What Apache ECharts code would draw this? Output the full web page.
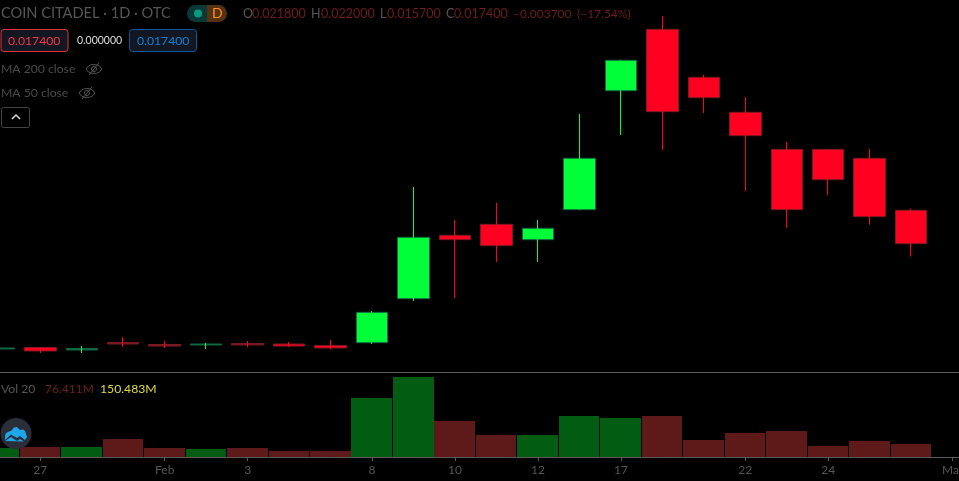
<!DOCTYPE html>
<html><head><meta charset="utf-8">
<style>html,body{margin:0;padding:0;background:#000}#c{width:959px;height:481px}</style>
<script src="https://cdn.jsdelivr.net/npm/echarts@6/dist/echarts.min.js"></script>
</head><body><div id="c"></div>
<script>
const categories=['2021-01-26','2021-01-27','2021-01-28','2021-01-29','2021-02-01','2021-02-02','2021-02-03','2021-02-04','2021-02-05','2021-02-08','2021-02-09','2021-02-10','2021-02-11','2021-02-12','2021-02-16','2021-02-17','2021-02-18','2021-02-19','2021-02-22','2021-02-23','2021-02-24','2021-02-25','2021-02-26','2021-03-01'];
const tickLabels={'2021-01-27':'27','2021-02-01':'Feb','2021-02-03':'3','2021-02-08':'8','2021-02-10':'10','2021-02-12':'12','2021-02-17':'17','2021-02-22':'22','2021-02-24':'24','2021-03-01':'Mar'};
const opens =[.00353,.00373,.00340,.00439,.00412,.00406,.00425,.00419,.00399,.00436,.01016,.01851,.01995,.01793,.02188,.03755,.04564,.03932,.03471,.02983,.02983,.02865,.0218];
const closes=[.00366,.00327,.00360,.00419,.00392,.00419,.00406,.00392,.00366,.00836,.01824,.01793,.01714,.01943,.02865,.04156,.03479,.03663,.03163,.02188,.02583,.02096,.0174];
const lows  =[.00353,.00300,.00300,.00379,.00366,.00353,.00379,.00379,.00346,.00419,.00985,.01025,.01499,.01499,.02188,.03172,.02974,.03462,.02434,.01951,.02381,.01990,.0157];
const highs =[.00366,.00373,.00392,.00511,.00458,.00432,.00458,.00445,.00472,.00853,.02487,.02052,.02276,.02052,.03448,.04156,.04739,.03962,.03672,.03080,.02983,.02987,.0220];
const volumes=[53,59,59,106,53,47,53,35,35,347,470,212,129,129,241,229,241,100,141,153,65,94,76.411];
const headerText={title:'COIN CITADEL · 1D · OTC',ma200:'MA 200 close',ma50:'MA 50 close',vol:'Vol 20',volValue:'76.411M',volMa:'150.483M'};
const ohlcText=[['O',243],['0.021800',252],['H',311],['0.022000',321],['L',380],['0.015700',387],['C',446],['0.017400',454],['−0.003700',513],['(−17.54%)',577]];

const FONT='Lato,"Open Sans",sans-serif';
const UP='#00ff38',DOWN='#ff0020',UPB='#126a44',DOWNB='#7a1a22';
const wicks=opens.map((o,i)=>[i,o,closes[i],lows[i],highs[i]]);
const bodies=opens.map((o,i)=>{
 const up=closes[i]>=o, thin=Math.abs(closes[i]-o)<0.00025;
 const item={value:[i,o,closes[i],Math.min(o,closes[i]),Math.max(o,closes[i])]};
 if(thin) item.itemStyle=up?{color:UPB}:{color0:DOWNB};
 return item;
});
const volData=volumes.map((v,i)=>[i,v,closes[i]>=opens[i]?1:0]);
const tickIdx=categories.map((c,i)=>tickLabels[c]!==undefined?i:-1).filter(i=>i>=0);

function txt(x,y,t,fill,size){return {type:'text',x,y,z:20,style:{text:t,fill,font:(size||13)+'px '+FONT,textVerticalAlign:'middle',textAlign:'left'}};}
function eye(cx,cy){const c='#555555';return {type:'group',x:cx,y:cy,z:20,children:[
 {type:'polygon',shape:{points:[[-8,0],[-5.5,-3],[-2.5,-4.3],[2.5,-4.3],[5.5,-3],[8,0],[5.5,3],[2.5,4.3],[-2.5,4.3],[-5.5,3]]},style:{fill:'none',stroke:c,lineWidth:1}},
 {type:'circle',shape:{cx:0,cy:0,r:2.5},style:{fill:'none',stroke:c,lineWidth:1}},
 {type:'line',shape:{x1:-5,y1:6,x2:5,y2:-6},style:{stroke:c,lineWidth:1}}]};}

const graphic=[
 txt(1,13,headerText.title,'#565656',14.6),
 {type:'rect',z:19,shape:{x:187,y:5,width:20,height:17,r:[8.5,0,0,8.5]},style:{fill:'#0b3a36'}},
 {type:'rect',z:19,shape:{x:207,y:5,width:20,height:17,r:[0,8.5,8.5,0]},style:{fill:'#553212'}},
 {type:'circle',z:20,shape:{cx:198,cy:13.5,r:4},style:{fill:'#089981'}},
 txt(212,13.5,'D','#ff9020',14),
 ...ohlcText.map((o,i)=>txt(o[1],14,o[0],(i<8&&i%2==0)?'#565656':'#6e1c1c',i<8?12.5:12)),
 {type:'rect',z:19,shape:{x:1,y:29.5,width:67,height:22,r:3},style:{fill:'#131722',stroke:'#e0323c',lineWidth:1}},
 txt(8,41,'0.017400','#f23645',12.2),
 txt(77,41,'0.000000','#dddddd',10.5),
 {type:'rect',z:19,shape:{x:129.5,y:29.5,width:67,height:22,r:3},style:{fill:'#131722',stroke:'#0b5b9c',lineWidth:1}},
 txt(137,41,'0.017400','#1080d8',12.2),
 txt(1,69.5,headerText.ma200,'#4a4a4a',12.2), eye(94,69),
 txt(1,93.5,headerText.ma50,'#4a4a4a',12.2), eye(87,93),
 {type:'rect',z:19,shape:{x:1.5,y:107.5,width:28,height:20,r:2},style:{fill:'#000',stroke:'#444',lineWidth:1}},
 {type:'polyline',z:20,shape:{points:[[12,119],[16,115],[20,119]]},style:{fill:'none',stroke:'#d8d8d8',lineWidth:1.5}},
 txt(1,389.5,headerText.vol,'#565656',12.2),
 txt(45,389.5,headerText.volValue,'#6e2020',12),
 txt(100,389.5,headerText.volMa,'#dcdc3c',12.2),
 {type:'circle',z:19,shape:{cx:16,cy:433.5,r:15.5},style:{fill:'#2a2e39'}},
 {type:'polygon',z:20,shape:{points:[[5,436],[6,433],[9,431.5],[11,431],[14,427.5],[17,427],[20,430],[23,429.5],[25,431],[26,434],[27,437],[25,440],[20,436],[17,438],[11,434.5],[5,440]]},style:{fill:'#1ea7e8'}},
 {type:'polygon',z:20,shape:{points:[[5,441],[11,437],[17,441],[20,439],[24,441.5]]},style:{fill:'#1ea7e8'}}
];

function volumeBar(params,api){
 const top=api.coord([api.value(0),api.value(1)]), base=api.coord([api.value(0),0]);
 const l=Math.round(top[0]-20.6), r=Math.round(top[0]+20);
 const t=Math.round(top[1]), b=Math.round(base[1]);
 return {type:'rect',shape:{x:l,y:t,width:r-l,height:b-t},style:{fill:api.value(2)?'#025c12':'#5e1a18'}};
}

const xMin=0.0282,xMax=23.153;
const chart=echarts.init(document.getElementById('c'),null,{renderer:'canvas'});
chart.setOption({
 animation:false,backgroundColor:'#000',
 grid:[{left:0,right:0,top:0,height:372,outerBoundsMode:'none'},{left:0,right:0,top:372,height:85,outerBoundsMode:'none'}],
 xAxis:[
  {type:'value',gridIndex:0,min:xMin,max:xMax,axisLine:{show:true,onZero:false,lineStyle:{color:'#5a5a5a',width:1}},axisTick:{show:false},axisLabel:{show:false},splitLine:{show:false}},
  {type:'value',gridIndex:1,min:xMin,max:xMax,axisLine:{show:true,onZero:false,lineStyle:{color:'#5a5a5a',width:1}},
   axisTick:{show:true,length:4,customValues:tickIdx,lineStyle:{color:'#5a5a5a'}},
   axisLabel:{show:true,customValues:tickIdx,margin:7,color:'#555555',fontSize:12,fontFamily:FONT,hideOverlap:false,formatter:v=>tickLabels[categories[v]]||''},splitLine:{show:false}}
 ],
 yAxis:[
  {type:'value',gridIndex:0,min:0.0005,max:0.0495,show:false,splitLine:{show:false}},
  {type:'value',gridIndex:1,min:0,max:500,show:false,splitLine:{show:false}}
 ],
 series:[
  {name:'Bodies',type:'candlestick',xAxisIndex:0,yAxisIndex:0,data:bodies,barWidth:32,clip:true,
   itemStyle:{color:UP,color0:DOWN,borderColor:UPB,borderColor0:DOWNB,borderWidth:1}},
  {name:'Wicks',type:'candlestick',xAxisIndex:0,yAxisIndex:0,data:wicks,barWidth:1,clip:true,
   itemStyle:{color:UP,color0:DOWN,borderColor:UP,borderColor0:DOWN,borderWidth:1}},
  {name:'Volume',type:'custom',xAxisIndex:1,yAxisIndex:1,data:volData,encode:{x:0,y:1},renderItem:volumeBar,clip:true}
 ],
 graphic
});
</script></body></html>
